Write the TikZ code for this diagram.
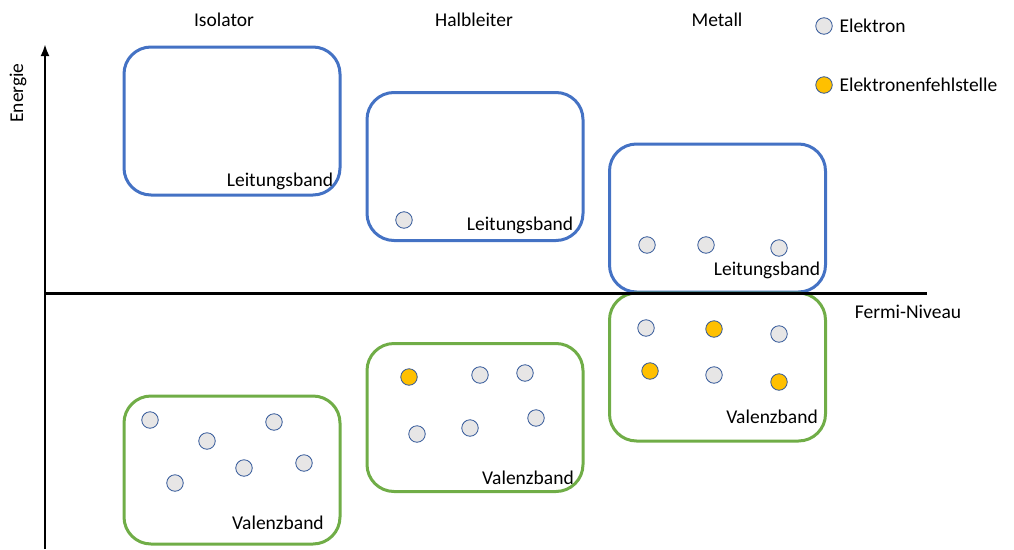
\documentclass[tikz,border=0pt]{standalone}
\usepackage{fontspec}
\setmainfont{Carlito}
\usepackage{xcolor}
\usepackage{tikz}
\usetikzlibrary{arrows.meta}

\definecolor{lbblue}{HTML}{4472C4}
\definecolor{vbgreen}{HTML}{70AD47}
\definecolor{elgray}{HTML}{E7E6E6}
\definecolor{elrand}{HTML}{2F5597}
\definecolor{lochgelb}{HTML}{FFC000}

\begin{document}
\begin{tikzpicture}[x=1pt, y=-1pt,
    font=\fontsize{19.5}{23}\selectfont,
    band/.style={draw, line width=3pt, rounded corners=27pt,
                 minimum width=216pt, minimum height=148pt, inner sep=0pt},
    leitband/.style={band, lbblue},
    valband/.style={band, vbgreen},
    elektron/.style={circle, draw=elrand, line width=0.8pt, fill=elgray,
                     minimum size=16.5pt, inner sep=0pt},
    loch/.style={elektron, fill=lochgelb}]

  % Bounding box
  \useasboundingbox (0,0) rectangle (1014,549);

  % Draw the conduction bands
  \node[leitband] (lb1) at (232,121) {};
  \node[leitband] (lb2) at (475,166.5) {};
  \node[leitband] (lb3) at (717.5,218) {};

  % Draw the valence bands
  \node[valband] (vb1) at (232,470) {};
  \node[valband] (vb2) at (475,417.5) {};
  \node[valband] (vb3) at (717.5,367) {};

  % Axes
  \coordinate (origin) at (45,293);
  \coordinate (top) at (45,44);
  \coordinate (bottom) at (45,549);
  \coordinate (fermi) at (927,293);
  \draw[line width=2.6pt, -{Latex[length=12pt,width=9pt]}] (bottom) -- (top);
  \draw[line width=3pt] (origin) -- (fermi);
  \node[rotate=90] (energie) at (18,93) {Energie};
  \node (fermitext) at (908,312) {Fermi-Niveau};

  % Titles
  \node (isolator) at (224,20) {Isolator};
  \node (halbleiter) at (474,20) {Halbleiter};
  \node (metall) at (717,20) {Metall};

  % Band labels
  \node (lt1) at (280,181) {Leitungsband};
  \node (lt2) at (520,225) {Leitungsband};
  \node (lt3) at (767,270) {Leitungsband};
  \node (vt1) at (278,523) {Valenzband};
  \node (vt2) at (528,478) {Valenzband};
  \node (vt3) at (772,417) {Valenzband};

  % Legend
  \node[elektron] (legel) at (824,26) {};
  \node[anchor=west] (legeltext) at (836,26) {Elektron};
  \node[loch] (leglo) at (824,85) {};
  \node[anchor=west] (leglotext) at (836,85) {Elektronenfehlstelle};

  % Draw the electrons in the conduction bands
  \node[elektron] (h1) at (404,220) {};
  \foreach \x/\y [count=\n] in {647/245, 706/245, 779/248}
    \node[elektron] (m\n) at (\x,\y) {};

  % Draw the electrons in the valence bands
  \foreach \x/\y [count=\n] in {150/420, 207/441, 274/422, 175/483, 244/468, 304/463}
    \node[elektron] (ie\n) at (\x,\y) {};
  \foreach \x/\y [count=\n] in {480/375, 525/373, 417/434, 470/428, 536/418}
    \node[elektron] (he\n) at (\x,\y) {};
  \foreach \x/\y [count=\n] in {646/328, 779/334, 714/375}
    \node[elektron] (me\n) at (\x,\y) {};

  % Draw the holes
  \node[loch] (hl1) at (409,377) {};
  \foreach \x/\y [count=\n] in {714/329, 650/371, 779/382}
    \node[loch] (ml\n) at (\x,\y) {};

\end{tikzpicture}
\end{document}
